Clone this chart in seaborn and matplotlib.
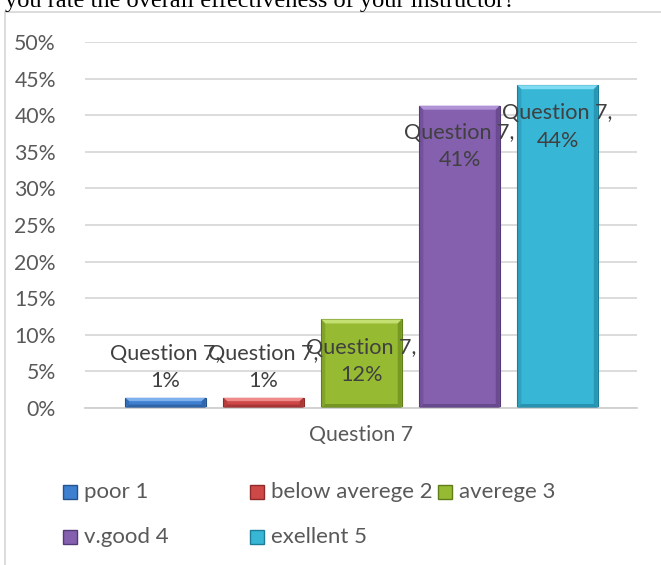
import matplotlib
matplotlib.use("Agg")
import matplotlib.pyplot as plt
from matplotlib.patches import Rectangle, Polygon
import seaborn as sns
import pandas as pd

# data
categories = ['poor 1', 'below averege 2', 'averege 3', 'v.good 4', 'exellent 5']
values = [1.4, 1.4, 12.1, 41.3, 44.1]
value_labels = ['1%', '1%', '12%', '41%', '44%']
colors = ['#3f7fcf', '#cf4848', '#96bb33', '#8460ae', '#38b6d6']
light_colors = ['#7fb0ee', '#ee8a8a', '#c4e070', '#b092d6', '#7fdcf2']
dark_colors = ['#24528e', '#8e2a2a', '#5f7d18', '#553a78', '#1d7d98']
series_name = 'Question 7'
title = 'you rate the overall effectiveness of your instructor?'

sns.set_theme(style='white')
plt.rcParams['font.family'] = ['Lato', 'DejaVu Sans']

df = pd.DataFrame({'cat': categories, 'val': values})

fig = plt.figure(figsize=(6.61, 5.65), dpi=100)
W, H = 661, 565
ax = fig.add_axes([85 / W, 1 - 408 / H, (637 - 85) / W, (408 - 42) / H])

sns.barplot(data=df, x='cat', y='val', hue='cat', palette=colors,
            width=0.82, legend=False, ax=ax, saturation=1)

ax.set_ylim(0, 50)
ax.set_xlim(-0.82, 4.81)

# bevel look: light top edge, dark bottom and sides
bx = 4 / 98.0     # ~4 px in x data units
by = 4 / 7.32     # ~4 px in y data units
for p, lc, dc in zip(ax.patches, light_colors, dark_colors):
    x0 = p.get_x()
    x1 = x0 + p.get_width()
    h = p.get_height()
    t = min(by, h / 3)
    p.set_edgecolor(dc)
    p.set_linewidth(0.8)
    ax.add_patch(Polygon([(x0, h), (x1, h), (x1 - bx, h - t), (x0 + bx, h - t)],
                         closed=True, facecolor=lc, edgecolor='none', zorder=3))
    ax.add_patch(Polygon([(x0, 0), (x1, 0), (x1 - bx, t), (x0 + bx, t)],
                         closed=True, facecolor=dc, edgecolor='none', alpha=0.6, zorder=3))
    ax.add_patch(Polygon([(x0, 0), (x0 + bx, t), (x0 + bx, h - t), (x0, h)],
                         closed=True, facecolor=dc, edgecolor='none', alpha=0.35, zorder=3))
    ax.add_patch(Polygon([(x1, 0), (x1 - bx, t), (x1 - bx, h - t), (x1, h)],
                         closed=True, facecolor=dc, edgecolor='none', alpha=0.55, zorder=3))

ax.set_yticks(range(0, 51, 5))
ax.set_yticklabels([f'{t}%' for t in range(0, 51, 5)], color='#595959', fontsize=15.3)
ax.tick_params(axis='y', length=0, pad=21)
ax.set_xticks([])
ax.set_xlabel(series_name, color='#595959', fontsize=15.3, labelpad=12)
ax.set_ylabel('')
ax.grid(axis='y', color='#d9d9d9', linewidth=1.3)
ax.set_axisbelow(True)
for s in ['top', 'right', 'left']:
    ax.spines[s].set_visible(False)
ax.spines['bottom'].set_color('#d0d0d0')
ax.spines['bottom'].set_linewidth(1.3)

# data labels
label_y = [5.5, 5.5, 6.3, 35.7, 38.4]
for i, (lab, ly) in enumerate(zip(value_labels, label_y)):
    ax.text(i, ly, f'{series_name},\n{lab}', ha='center', va='center',
            color='#404040', fontsize=15.6, linespacing=1.45, zorder=5)

# outer chart border and cut-off title
fig.add_artist(Rectangle((4.5 / W, -0.1), 1.2, 1 - 12 / H + 0.1,
                         transform=fig.transFigure, fill=False,
                         edgecolor='#d9d9d9', linewidth=1.3))
fig.text(5 / W, 1 - 7 / H, title, family='Liberation Serif', fontsize=17.6,
         va='baseline', ha='left', color='black')

# legend, laid out like the original
leg_pos = [(63, 492), (250, 492), (438, 492), (63, 537), (250, 537)]
for (lx, ly), name, c, dc in zip(leg_pos, categories, colors, dark_colors):
    fig.add_artist(Rectangle((lx / W, 1 - (ly + 7) / H), 14 / W, 14 / H,
                             transform=fig.transFigure, facecolor=c,
                             edgecolor=dc, linewidth=1))
    fig.text((lx + 21) / W, 1 - ly / H, name, color='#595959', fontsize=16,
             va='center', ha='left')

fig.savefig('out.png', dpi=100)
